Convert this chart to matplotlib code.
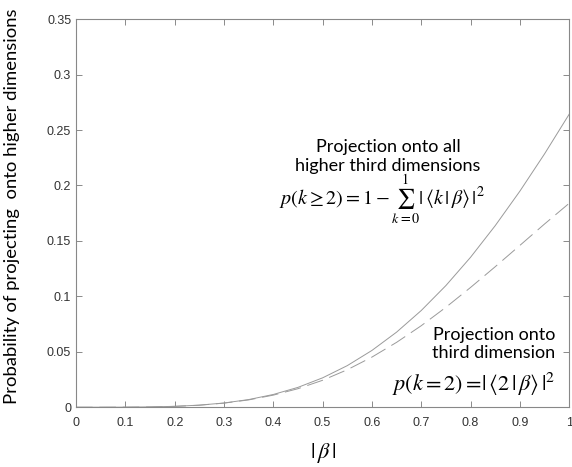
import numpy as np
import matplotlib
matplotlib.use('Agg')
import matplotlib.pyplot as plt

plt.rcParams['mathtext.fontset'] = 'stix'

# |beta| values and the two probabilities
beta = [0.0, 0.05, 0.1, 0.15, 0.2, 0.25, 0.3, 0.35, 0.4, 0.45, 0.5,
        0.55, 0.6, 0.65, 0.7, 0.75, 0.8, 0.85, 0.9, 0.95, 1.0]
p_higher = [0.0, 0.0, 0.00005, 0.0003, 0.0008, 0.0019, 0.0038, 0.0069, 0.0115, 0.0179, 0.0265,
            0.0375, 0.0512, 0.0677, 0.0872, 0.1097, 0.1352, 0.1637, 0.1948, 0.2284, 0.2642]
p_third = [0.0, 0.0, 0.00005, 0.0002, 0.00077, 0.0018, 0.0037, 0.0066, 0.0109, 0.0167, 0.0243,
           0.0338, 0.0452, 0.0585, 0.0735, 0.0901, 0.1080, 0.1267, 0.1459, 0.1652, 0.1839]

xticks = [0, 0.1, 0.2, 0.3, 0.4, 0.5, 0.6, 0.7, 0.8, 0.9, 1]
yticks = [0, 0.05, 0.1, 0.15, 0.2, 0.25, 0.3, 0.35]

fig = plt.figure(figsize=(5.72, 4.67), dpi=100)
ax = fig.add_axes([0.133, 0.128, 0.862, 0.831])

ax.plot(beta, p_higher, color='#9a9a9a', lw=0.7, ls='-')
ax.plot(beta, p_third, color='#9a9a9a', lw=0.7, ls=(0, (17, 7)))

ax.set_xlim(0, 1)
ax.set_ylim(0, 0.35)
ax.set_xticks(xticks)
ax.set_xticklabels(['0', '0.1', '0.2', '0.3', '0.4', '0.5', '0.6', '0.7', '0.8', '0.9', '1'])
ax.set_yticks(yticks)
ax.set_yticklabels(['0', '0.05', '0.1', '0.15', '0.2', '0.25', '0.3', '0.35'])
ax.tick_params(direction='in', top=True, right=True, length=4, width=0.6,
               color='#777777', labelsize=9, labelcolor='#333333')
ax.tick_params(axis='x', pad=7)
for lab in ax.get_xticklabels() + ax.get_yticklabels():
    lab.set_family('Liberation Sans')
for s in ax.spines.values():
    s.set_color('#888888')
    s.set_linewidth(0.8)

ax.set_ylabel('Probability of projecting  onto higher dimensions',
              family='Lato', fontsize=13.3, va='center')
ax.yaxis.set_label_coords(-0.13, 0.517)
ax.set_xlabel(r'$|\,\beta\,|$', fontsize=16, va='center')
ax.xaxis.set_label_coords(0.5, -0.118)

ax.text(0.633, 0.226, 'Projection onto all\nhigher third dimensions',
        family='Lato', fontsize=13, ha='center', va='center', linespacing=1.2)
ax.text(0.62, 0.188, r'$p(k\geq 2)=1-\sum_{k=0}^{1}|\,\langle k\,|\,\beta\rangle\,|^2$',
        fontsize=14.5, ha='center', va='center')
ax.text(0.972, 0.057, 'Projection onto\nthird dimension',
        family='Lato', fontsize=13, ha='right', va='center', linespacing=1.2)
ax.text(0.972, 0.021, r'$p(k=2)=\!|\,\langle 2\,|\,\beta\rangle\,|^2$',
        fontsize=16, ha='right', va='center')

fig.savefig('out.png', dpi=100)
